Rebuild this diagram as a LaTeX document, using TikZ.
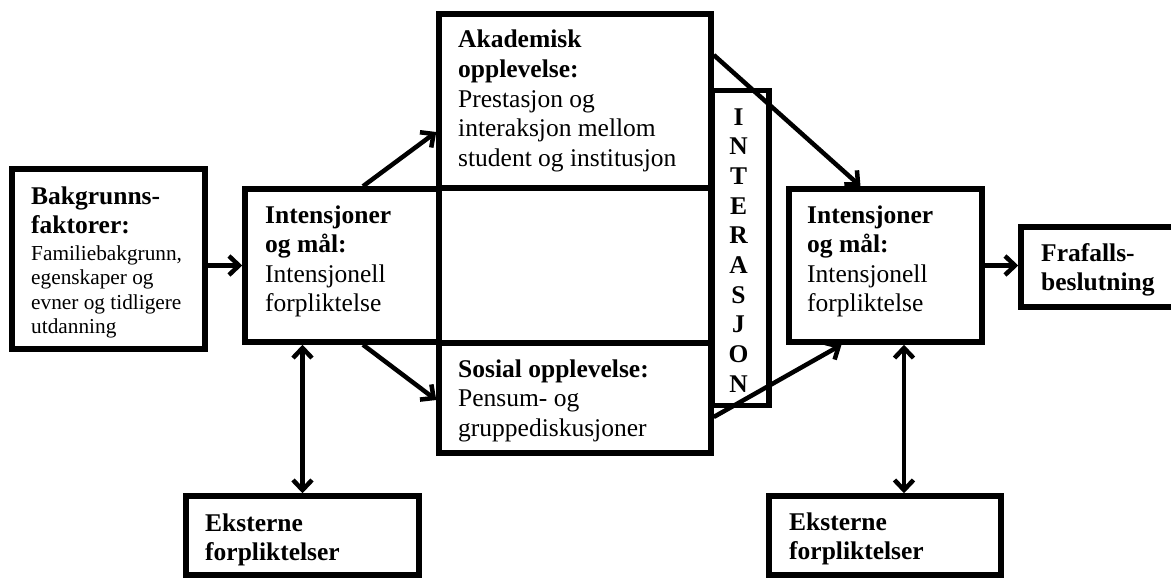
\documentclass[tikz,border=0pt]{standalone}
\usepackage{fontspec}
\setmainfont{Liberation Serif}
\usetikzlibrary{arrows.meta}
\newcommand\ctrletter[1]{\hbox to 30pt{\hss#1\hss}}
\begin{document}
\begin{tikzpicture}[x=1pt,y=-1pt,
  box/.style={draw, line width=5.5pt, inner sep=0pt},
  lbl/.style={anchor=base west, inner sep=0pt, font=\fontsize{25.5}{29.6}\selectfont},
  arr/.style={line width=4.5pt, -{Straight Barb[length=10pt,width=19pt]}},
  dbl/.style={line width=4.5pt, {Straight Barb[length=10pt,width=19pt]}-{Straight Barb[length=10pt,width=19pt]}}]
\useasboundingbox[fill=white] (0,0) rectangle (1171,578);
% boxes
\node[box,minimum width=193pt,minimum height=180pt] (bak) at (108.5,259) {};
\node[box,minimum width=194pt,minimum height=153pt] (intA) at (342,265.5) {};
\node[box,minimum width=272pt,minimum height=174pt] (aka) at (575,101) {};
\node[box,minimum width=272pt,minimum height=155pt] (mid) at (575,265.5) {};
\node[box,minimum width=272pt,minimum height=110pt] (sos) at (575,398) {};
\node[box,minimum width=57pt,minimum height=315pt] (inter) at (740.5,248) {};
\node[box,minimum width=193pt,minimum height=153pt] (intB) at (885.5,265.5) {};
\node[box,minimum width=164pt,minimum height=80pt] (fra) at (1103,267) {};
\node[box,minimum width=233pt,minimum height=79pt] (eksA) at (302.5,535.5) {};
\node[box,minimum width=232pt,minimum height=79pt] (eksB) at (885,535.5) {};
% texts
\node[lbl] (bakT) at (31,204) {\vtop{\hbox{\bfseries Bakgrunns-}\hbox{\bfseries faktorer:}\fontsize{21.3}{24.4}\selectfont\vskip2.6pt\hbox{Familiebakgrunn,}\hbox{egenskaper og}\hbox{evner og tidligere}\hbox{utdanning}}};
\node[lbl] (intAT) at (265,223) {\vtop{\hbox{\bfseries Intensjoner}\hbox{\bfseries og mål:}\hbox{Intensjonell}\hbox{forpliktelse}}};
\node[lbl] (akaT) at (458,48) {\vtop{\hbox{\bfseries Akademisk}\hbox{\bfseries opplevelse:}\hbox{Prestasjon og}\hbox{interaksjon mellom}\hbox{student og institusjon}}};
\node[lbl] (sosT) at (458,377) {\vtop{\hbox{\bfseries Sosial opplevelse:}\hbox{Pensum- og}\hbox{gruppediskusjoner}}};
\node[lbl] (intBT) at (807,223) {\vtop{\hbox{\bfseries Intensjoner}\hbox{\bfseries og mål:}\hbox{Intensjonell}\hbox{forpliktelse}}};
\node[lbl] (fraT) at (1041,261) {\vtop{\hbox{\bfseries Frafalls-}\hbox{\bfseries beslutning}}};
\node[lbl] (eksAT) at (205,531) {\vtop{\hbox{\bfseries Eksterne}\hbox{\bfseries forpliktelser}}};
\node[lbl] (eksBT) at (789,530) {\vtop{\hbox{\bfseries Eksterne}\hbox{\bfseries forpliktelser}}};
\node[anchor=base, inner sep=0pt, font=\bfseries\fontsize{25.5}{29.67}\selectfont] (interT) at (738.5,125)
  {\vtop{\ctrletter{I}\ctrletter{N}\ctrletter{T}\ctrletter{E}\ctrletter{R}\ctrletter{A}\ctrletter{S}\ctrletter{J}\ctrletter{O}\ctrletter{N}}};
% connectors
\draw[arr] (bak.east |- intA.west) -- (intA.west);
\draw[arr] ([xshift=21pt]intA.north) -- ([yshift=-31pt]aka.west);
\draw[arr] ([xshift=21pt]intA.south) -- ([yshift=-2pt]sos.west);
\draw[arr] ([yshift=46pt]aka.east) -- ([xshift=-25pt]intB.north);
\draw[arr] ([yshift=-19pt]sos.east) -- ([xshift=-44pt]intB.south);
\draw[arr] (intB.east) -- (intB.east -| fra.west);
\draw[dbl] (eksA.north |- intA.south) -- (eksA.north);
\draw[dbl] ([xshift=18.5pt]intB.south) -- ([xshift=19pt]eksB.north);
\end{tikzpicture}
\end{document}
